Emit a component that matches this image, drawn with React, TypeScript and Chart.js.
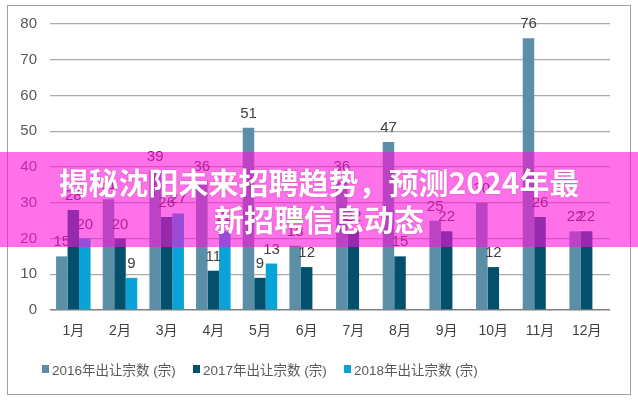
import React, { useEffect, useRef } from "react";
import { Chart, registerables } from "chart.js";

Chart.register(...registerables);

const months = ["1月", "2月", "3月", "4月", "5月", "6月", "7月", "8月", "9月", "10月", "11月", "12月"];
const seriesNames = ["2016年出让宗数 (宗)", "2017年出让宗数 (宗)", "2018年出让宗数 (宗)"];
const values2016 = [15, 31, 39, 36, 51, 18, 36, 47, 25, 30, 76, 22];
const values2017 = [28, 20, 26, 11, 9, 12, 22, 15, 22, 12, 26, 22];
const values2018: (number | null)[] = [20, 9, 27, 22, 13, null, null, null, null, null, null, null];
const yTicks = { min: 0, max: 80, step: 10 };
const bannerLines = ["揭秘沈阳未来招聘趋势，预测2024年最", "新招聘信息动态"];

const colors = ["#5b8fa7", "#03506d", "#0aa3d8"];
const numFont = "'Liberation Sans', Arial, 'Noto Sans CJK SC', sans-serif";

const valueLabels = {
  id: "valueLabels",
  afterDatasetsDraw(chart: any) {
    const ctx = chart.ctx;
    ctx.save();
    ctx.font = `15px ${numFont}`;
    ctx.fillStyle = "#404040";
    ctx.textAlign = "center";
    ctx.textBaseline = "alphabetic";
    chart.data.datasets.forEach((ds: any, i: number) => {
      const meta = chart.getDatasetMeta(i);
      meta.data.forEach((bar: any, j: number) => {
        const v = ds.data[j];
        if (v === null || v === undefined) return;
        ctx.fillText(String(v), bar.x, bar.y - 10);
      });
    });
    ctx.restore();
  },
};

export default function App() {
  const ref = useRef<HTMLCanvasElement | null>(null);

  useEffect(() => {
    if (!ref.current) return;
    const chart = new Chart(ref.current, {
      type: "bar",
      data: {
        labels: months,
        datasets: [values2016, values2017, values2018].map((d, i) => ({
          label: seriesNames[i],
          data: d,
          backgroundColor: colors[i],
          borderWidth: 0,
          categoryPercentage: 0.74,
          barPercentage: 1,
        })),
      },
      options: {
        animation: false,
        responsive: false,
        maintainAspectRatio: false,
        layout: { padding: { left: 0, right: 28, top: 24, bottom: 0 } },
        plugins: {
          legend: { display: false },
          tooltip: { enabled: false },
          title: { display: false },
        },
        scales: {
          x: {
            grid: { display: false, drawTicks: false },
            border: { display: false },
            ticks: {
              color: "#404040",
              font: { size: 14, family: numFont },
              padding: 13,
              maxRotation: 0,
              autoSkip: false,
            },
            afterFit: (scale: any) => {
              scale.height = 90;
            },
          },
          y: {
            min: yTicks.min,
            max: yTicks.max,
            grid: {
              drawTicks: false,
              color: (c: any) => (c.tick && c.tick.value === 0 ? "#7f7f7f" : "#ababab"),
              lineWidth: (c: any) => (c.tick && c.tick.value === 0 ? 1.5 : 1.2),
            },
            border: { display: false },
            ticks: {
              stepSize: yTicks.step,
              color: "#595959",
              font: { size: 15, family: numFont },
              padding: 13,
            },
            afterFit: (scale: any) => {
              scale.width = 50;
            },
          },
        },
      },
      plugins: [valueLabels],
    });
    return () => chart.destroy();
  }, []);

  const legendLefts = [42, 193, 344];

  return (
    <div style={{ position: "absolute", left: 0, top: 0, width: 638, height: 400, background: "#fff", overflow: "hidden" }}>
      <canvas ref={ref} width={638} height={400} style={{ position: "absolute", left: 0, top: 0, width: 638, height: 400 }} />
      <div
        style={{
          position: "absolute",
          left: 7,
          top: 5,
          width: 622,
          height: 388,
          border: "1px solid #a0a0a0",
          pointerEvents: "none",
        }}
      />
      {seriesNames.map((n, i) => (
        <div
          key={n}
          style={{
            position: "absolute",
            left: legendLefts[i],
            top: 359,
            height: 19,
            display: "flex",
            alignItems: "center",
            fontFamily: numFont,
            fontSize: 13.5,
            color: "#595959",
            whiteSpace: "nowrap",
          }}
        >
          <span style={{ display: "inline-block", width: 7, height: 8, background: colors[i], marginRight: 3 }} />
          <span>{n}</span>
        </div>
      ))}
      <div
        style={{
          position: "absolute",
          left: 0,
          top: 152,
          width: 638,
          height: 95,
          background: "rgba(255, 14, 216, 0.59)",
          boxSizing: "border-box",
          paddingTop: 11,
          textAlign: "center",
          color: "#ffffff",
          fontFamily: "'Noto Sans CJK SC', sans-serif",
          fontWeight: 700,
          fontSize: 30,
          lineHeight: "37px",
          textShadow: "0 0 2px rgba(120,0,100,0.35)",
        }}
      >
        {bannerLines[0]}
        <br />
        {bannerLines[1]}
      </div>
    </div>
  );
}
